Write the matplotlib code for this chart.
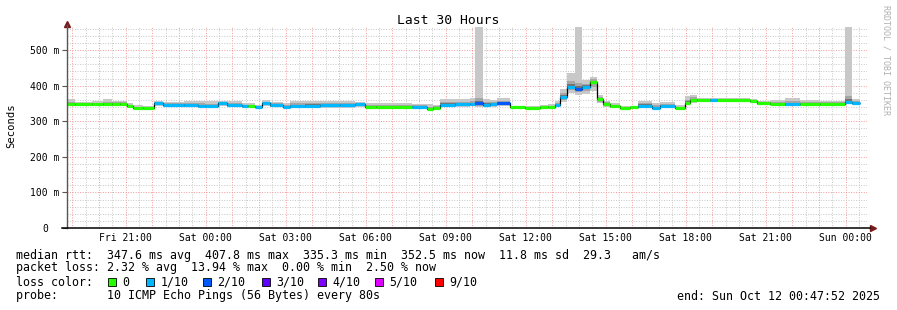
import matplotlib
matplotlib.use("Agg")
import matplotlib.pyplot as plt
import matplotlib.dates as mdates
from matplotlib.patches import Rectangle
import numpy as np
import pandas as pd

# ---- data ----
start = pd.Timestamp("2025-10-10 18:47:52")
end = pd.Timestamp("2025-10-12 00:47:52")

# segment edges, minutes after start
edges_min = [0, 18, 56, 81, 101, 119, 135, 149, 171, 196, 216, 263, 295, 311, 340, 360,
             394, 407, 423, 439, 457, 486, 502, 536, 569, 614, 648, 671, 695, 776, 810,
             824, 839, 873, 907, 918, 936, 952, 968, 997, 1031, 1064, 1082, 1098, 1109,
             1125, 1143, 1159, 1177, 1193, 1206, 1222, 1244, 1267, 1285, 1316, 1334, 1368,
             1391, 1402, 1418, 1447, 1463, 1537, 1553, 1582, 1616, 1649, 1694, 1751, 1766, 1784]

median_ms = [348, 348, 348, 348, 348, 348, 343, 337, 337, 351,
             346, 346, 343, 343, 352, 346, 342, 342, 341, 350,
             346, 340, 344, 344, 345, 346, 348, 340, 339, 341,
             335, 338, 347, 348, 348, 350, 346, 348, 351, 339,
             337, 340, 340, 345, 369, 397, 392, 397, 410, 362,
             348, 343, 336, 339, 344, 338, 343, 337, 352, 360,
             360, 360, 360, 357, 350, 349, 348, 348, 348, 355, 352]

loss_tenths = [0, 0, 0, 0, 0, 0, 0, 0, 0, 1,
               1, 1, 1, 1, 1, 1, 1, 0, 1, 1,
               1, 1, 1, 1, 1, 1, 1, 0, 0, 1,
               0, 0, 1, 1, 1, 2, 1, 1, 2, 0,
               0, 0, 0, 1, 1, 1, 2, 1, 0, 0,
               0, 0, 0, 0, 1, 1, 1, 0, 0, 0,
               0, 1, 0, 0, 0, 0, 1, 0, 0, 1, 1]

smoke_lo = [344, 344, 344, 344, 344, 342, 338, 334, 336, 344,
            340, 340, 338, 338, 343, 339, 338, 340, 338, 342,
            340, 336, 338, 337, 338, 337, 340, 336, 336, 337,
            333, 335, 340, 341, 342, 340, 340, 340, 343, 336,
            334, 337, 337, 340, 355, 380, 375, 378, 385, 350,
            340, 338, 334, 335, 338, 335, 337, 334, 345, 352,
            354, 355, 355, 352, 346, 345, 344, 344, 344, 348, 346]

smoke_hi = [362, 354, 357, 362, 358, 358, 350, 346, 344, 358,
            355, 357, 357, 356, 358, 358, 352, 350, 347, 360,
            355, 352, 356, 358, 358, 358, 355, 350, 350, 348,
            348, 346, 362, 362, 365, 565, 362, 360, 365, 343,
            342, 346, 348, 356, 390, 435, 565, 415, 425, 375,
            358, 350, 342, 343, 357, 352, 355, 345, 370, 375,
            366, 366, 365, 362, 358, 360, 366, 360, 358, 565, 362]

loss_labels = ["0", "1/10", "2/10", "3/10", "4/10", "5/10", "9/10"]
loss_colors = ["#26ff00", "#00b8ff", "#0059ff", "#5e00ff", "#7e00ff", "#dd00ff", "#ff0000"]
loss_cmap = {0: "#26ff00", 1: "#00b8ff", 2: "#0059ff", 3: "#5e00ff", 4: "#7e00ff", 5: "#dd00ff", 9: "#ff0000"}

W, H = 897, 310
MONO = "DejaVu Sans Mono"
plt.rcParams["font.family"] = MONO

fig = plt.figure(figsize=(W / 100, H / 100), dpi=100)
ax = fig.add_axes([67 / W, (H - 228) / H, 800 / W, 201 / H])

edges = mdates.date2num(start + pd.to_timedelta(edges_min, unit="min"))
med = np.array(median_ms, float)
lo = np.array(smoke_lo, float)
hi = np.array(smoke_hi, float)
t0, t1 = mdates.date2num(start), mdates.date2num(end)

# ---- grid ----
grid_gray = "#c6c6c6"
grid_red = "#f29a9a"
dots = (0, (1, 1.6))
for t in pd.date_range(start.ceil("30min"), end, freq="30min"):
    red = t.minute == 0
    ax.axvline(mdates.date2num(t), color=grid_red if red else grid_gray, lw=0.7, ls=dots, zorder=1)
for v in range(20, 565, 20):
    ax.axhline(v, color=grid_red if v % 100 == 0 else grid_gray, lw=0.7, ls=dots, zorder=1)

# ---- smoke ----
ax.stairs(hi, edges, baseline=lo, fill=True, color="#c8c8c8", lw=0, zorder=2)
in_hi = med + np.minimum((hi - med) * 0.5, 16)
in_lo = med - (med - lo) * 0.6
ax.stairs(in_hi, edges, baseline=in_lo, fill=True, color="#a6a6a6", lw=0, zorder=3)
core_hi = med + np.minimum((hi - med) * 0.25, 7)
ax.stairs(core_hi, edges, baseline=med - 2, fill=True, color="#747474", lw=0, zorder=3)

# ---- median line coloured by loss ----
ax.stairs(med, edges, baseline=None, color="black", lw=0.9, zorder=4)
for i in range(len(med)):
    ax.hlines(med[i], edges[i], edges[i + 1], colors=loss_cmap[loss_tenths[i]], lw=2.3, zorder=5)

ax.set_xlim(t0, t1)
ax.set_ylim(0, 565)

# ---- axes & ticks ----
for s in ax.spines.values():
    s.set_visible(False)
ax.plot([0, 0], [0, 1.01], transform=ax.transAxes, color="#555555", lw=1, clip_on=False, zorder=6)
ax.plot(0, 1.015, marker="^", ms=4.5, color="#7a1a1a", transform=ax.transAxes, clip_on=False)
ax.plot([-5 / 800, 1.004], [0, 0], transform=ax.transAxes, color="black", lw=1.1, clip_on=False, zorder=6)
ax.plot(1.007, 0, marker=">", ms=4.5, color="#7a1a1a", transform=ax.transAxes, clip_on=False)

ax.xaxis.set_major_locator(mdates.HourLocator(byhour=range(0, 24, 3)))
ax.xaxis.set_major_formatter(mdates.DateFormatter("%a %H:%M"))
ax.tick_params(axis="x", length=0, pad=3.5, labelsize=7)
ax.set_yticks(range(0, 600, 100))
ax.set_yticklabels(["0"] + [f"{v} m" for v in range(100, 600, 100)])
ax.tick_params(axis="y", length=3.6, width=0.8, color="#555555", pad=12.2, labelsize=7)
for lab in ax.get_yticklabels():
    lab.set_horizontalalignment("center")

fig.text(11 / W, 1 - 126 / H, "Seconds", rotation=90, ha="center", va="center", fontsize=7.6)
fig.text(0.5, 1 - 20 / H, "Last 30 Hours", ha="center", va="center", fontsize=9.4)
fig.text(886 / W, 1 - 60 / H, "RRDTOOL / TOBI OETIKER", rotation=270, ha="center", va="center",
         fontsize=6, color="#b0b0b0")

# ---- legend text ----
fs = 8.35
x0 = 16 / W
fig.text(x0, 1 - 255 / H, "median rtt:  347.6 ms avg  407.8 ms max  335.3 ms min  352.5 ms now  11.8 ms sd  29.3   am/s",
         va="center", fontsize=fs)
fig.text(x0, 1 - 268 / H, "packet loss: 2.32 % avg  13.94 % max  0.00 % min  2.50 % now", va="center", fontsize=fs)
fig.text(x0, 1 - 282 / H, "loss color:", va="center", fontsize=fs)
sq_x = [108, 146, 203, 262, 318, 375, 435]
for i, (lab, c) in enumerate(zip(loss_labels, loss_colors)):
    fig.add_artist(Rectangle((sq_x[i] / W, 1 - 286 / H), 8 / W, 8 / H, transform=fig.transFigure,
                             facecolor=c, edgecolor="black", lw=0.6))
    fig.text((sq_x[i] + 14.5) / W, 1 - 282 / H, lab, va="center", fontsize=fs)
fig.text(x0, 1 - 296 / H, "probe:       10 ICMP Echo Pings (56 Bytes) every 80s", va="center", fontsize=fs)
fig.text(880 / W, 1 - 296 / H, "end: Sun Oct 12 00:47:52 2025", ha="right", va="center", fontsize=fs)

fig.savefig("out.png", dpi=100)
